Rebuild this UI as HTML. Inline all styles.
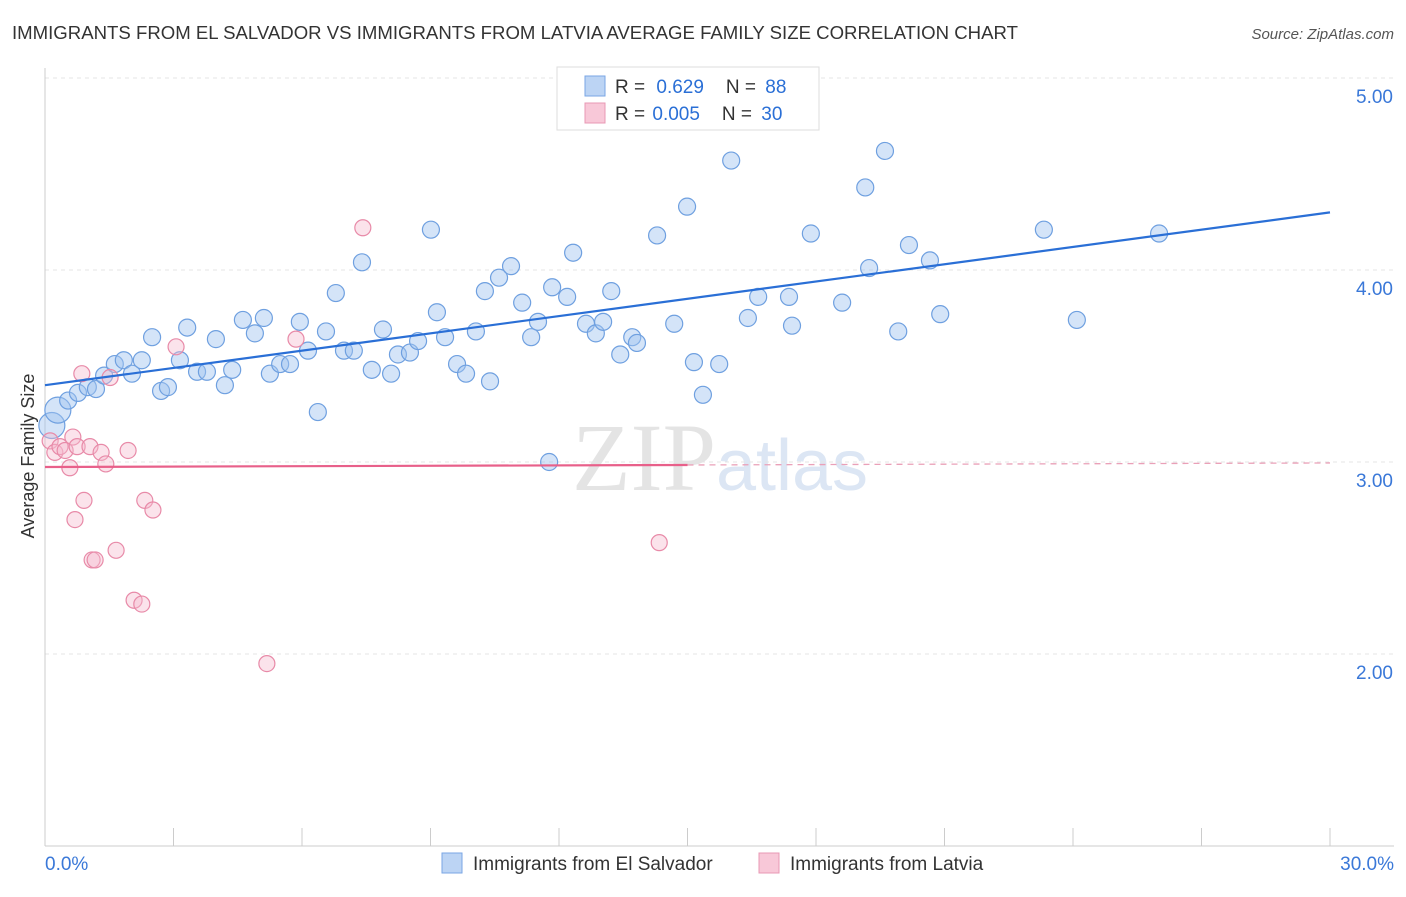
<!DOCTYPE html>
<html><head><meta charset="utf-8"><style>
body{margin:0;background:#fff;font-family:"Liberation Sans",sans-serif;}
</style></head><body>
<svg id="chart" width="1406" height="892" xmlns="http://www.w3.org/2000/svg" font-family="Liberation Sans, sans-serif">
<text x="12" y="39" font-size="18.6" fill="#333">IMMIGRANTS FROM EL SALVADOR VS IMMIGRANTS FROM LATVIA AVERAGE FAMILY SIZE CORRELATION CHART</text>
<text x="1394" y="39" font-size="15" fill="#555" text-anchor="end" font-style="italic">Source: ZipAtlas.com</text>
<text x="720" y="490" font-size="96" text-anchor="middle" fill="#e4e4e4" font-family="Liberation Serif, serif">ZIP<tspan fill="#dce6f4" font-family="Liberation Sans, sans-serif" font-size="72">atlas</tspan></text>
<g id="grid"></g><g id="axes"></g><g id="pts"></g><g id="lines"></g>
<text transform="translate(34,456) rotate(-90)" font-size="18" fill="#333" text-anchor="middle">Average Family Size</text>
<g>
<rect x="557" y="67" width="262" height="63" fill="#fff" stroke="#ddd"/>
<rect x="585" y="76" width="20" height="20" fill="#bcd4f4" stroke="#7aa6e4"/>
<text x="615" y="93" font-size="19" fill="#333">R = <tspan fill="#2a6fd6" dx="6">0.629</tspan><tspan dx="22">N = </tspan><tspan fill="#2a6fd6" dx="4">88</tspan></text>
<rect x="585" y="103" width="20" height="20" fill="#f8c8d8" stroke="#e898b4"/>
<text x="615" y="120" font-size="19" fill="#333">R = <tspan fill="#2a6fd6" dx="2">0.005</tspan><tspan dx="22">N = </tspan><tspan fill="#2a6fd6" dx="4">30</tspan></text>
</g>
<g>
<rect x="442" y="853" width="20" height="20" fill="#bcd4f4" stroke="#7aa6e4"/>
<text x="473" y="870" font-size="19" fill="#333">Immigrants from El Salvador</text>
<rect x="759" y="853" width="20" height="20" fill="#f8c8d8" stroke="#e898b4"/>
<text x="790" y="870" font-size="19" fill="#333">Immigrants from Latvia</text>
</g>
</svg>
<script>
const blueX=[0.16,0.30,0.54,0.77,1.00,1.19,1.38,1.63,1.84,2.03,2.26,2.50,2.71,2.87,3.15,3.32,3.55,3.78,3.99,4.20,4.37,4.62,4.90,5.11,5.25,5.49,5.72,5.95,6.14,6.37,6.56,6.79,6.98,7.21,7.40,7.63,7.89,8.08,8.24,8.52,8.71,9.01,9.15,9.34,9.62,9.83,10.06,10.27,10.39,10.60,10.88,11.14,11.35,11.51,11.77,11.84,12.19,12.33,12.63,12.86,13.03,13.22,13.43,13.71,13.82,14.29,14.69,14.99,15.15,15.36,15.74,16.02,16.41,16.65,17.37,17.44,17.88,18.61,19.15,19.24,19.61,19.92,20.17,20.66,20.90,23.32,24.09,26.01];
const blueY=[3.19,3.27,3.32,3.36,3.39,3.38,3.45,3.51,3.53,3.46,3.53,3.65,3.37,3.39,3.53,3.70,3.47,3.47,3.64,3.40,3.48,3.74,3.67,3.75,3.46,3.51,3.51,3.73,3.58,3.26,3.68,3.88,3.58,3.58,4.04,3.48,3.69,3.46,3.56,3.57,3.63,4.21,3.78,3.65,3.51,3.46,3.68,3.89,3.42,3.96,4.02,3.83,3.65,3.73,3.00,3.91,3.86,4.09,3.72,3.67,3.73,3.89,3.56,3.65,3.62,4.18,3.72,4.33,3.52,3.35,3.51,4.57,3.75,3.86,3.86,3.71,4.19,3.83,4.43,4.01,4.62,3.68,4.13,4.05,3.77,4.21,3.74,4.19];
const pinkX=[0.12,0.23,0.35,0.47,0.58,0.65,0.75,0.86,0.91,0.70,1.05,1.10,1.17,1.31,1.42,1.52,1.66,1.94,2.08,2.26,2.33,2.52,3.06,5.18,5.86,7.42,14.34];
const pinkY=[3.11,3.05,3.08,3.06,2.97,3.13,3.08,3.46,2.80,2.70,3.08,2.49,2.49,3.05,2.99,3.44,2.54,3.06,2.28,2.26,2.80,2.75,3.60,1.95,3.64,4.22,2.58];
const yTicks=[2,3,4,5];
const yTickLabels=["2.00","3.00","4.00","5.00"];
const xTicks=[0,3,6,9,12,15,18,21,24,27,30];
const blueFit=[3.40,4.30];
const pinkFit=[2.974,2.995];
const NS="http://www.w3.org/2000/svg";
const sx=v=>45+v*(1285/30), sy=v=>846-(v-1)*192;
function mk(tag,attrs,parent){const e=document.createElementNS(NS,tag);for(const k in attrs)e.setAttribute(k,attrs[k]);document.getElementById(parent).appendChild(e);return e;}
yTicks.forEach((t,i)=>{
 const g=mk('line',{x1:45,x2:1394,y1:sy(t),y2:sy(t),stroke:'#e4e4e4','stroke-dasharray':'4,4'},'grid');
 
 
 const l=mk('text',{x:1393,y:sy(t)+25,'font-size':19,fill:'#3a78d8','text-anchor':'end'},'axes');
 l.textContent=yTickLabels[i];
 
 
});
const topGrid=mk('line',{x1:45,x2:1394,y1:78,y2:78,stroke:'#e4e4e4','stroke-dasharray':'4,4'},'grid');


const ya=mk('line',{x1:45,x2:45,y1:68,y2:846,stroke:'#ccc'},'axes');


const xa=mk('line',{x1:45,x2:1394,y1:846,y2:846,stroke:'#ccc'},'axes');


xTicks.forEach(t=>{const k=mk('line',{x1:sx(t),x2:sx(t),y1:828,y2:846,stroke:'#ccc'},'axes');
 
 });
const x0=mk('text',{x:45,y:870,'font-size':19,fill:'#3a78d8'},'axes');x0.textContent='0.0%';


const x1=mk('text',{x:1394,y:870,'font-size':19,fill:'#3a78d8','text-anchor':'end'},'axes');x1.textContent='30.0%';


blueX.forEach((v,i)=>{const c=mk('circle',{cx:sx(v),cy:sy(blueY[i]),r:i<2?13:8.5,fill:'rgba(160,196,240,0.45)',stroke:'#6fa0e0','stroke-width':1.2},'pts');
 
 });
pinkX.forEach((v,i)=>{const c=mk('circle',{cx:sx(v),cy:sy(pinkY[i]),r:8,fill:'rgba(245,184,204,0.4)',stroke:'#e88aa8','stroke-width':1.2},'pts');
 
 });
const bl=mk('line',{x1:sx(0),y1:sy(blueFit[0]),x2:sx(30),y2:sy(blueFit[1]),stroke:'#2a6fd6','stroke-width':2.2},'lines');


const pm=pinkFit[0]+(pinkFit[1]-pinkFit[0])*0.5;
const pl=mk('line',{x1:sx(0),y1:sy(pinkFit[0]),x2:sx(15),y2:sy(pm),stroke:'#e8608a','stroke-width':2.2},'lines');


const pd=mk('line',{x1:sx(15),y1:sy(pm),x2:sx(30),y2:sy(pinkFit[1]),stroke:'#eaa0b8','stroke-width':1.3,'stroke-dasharray':'6,5'},'lines');


</script>
</body></html>
